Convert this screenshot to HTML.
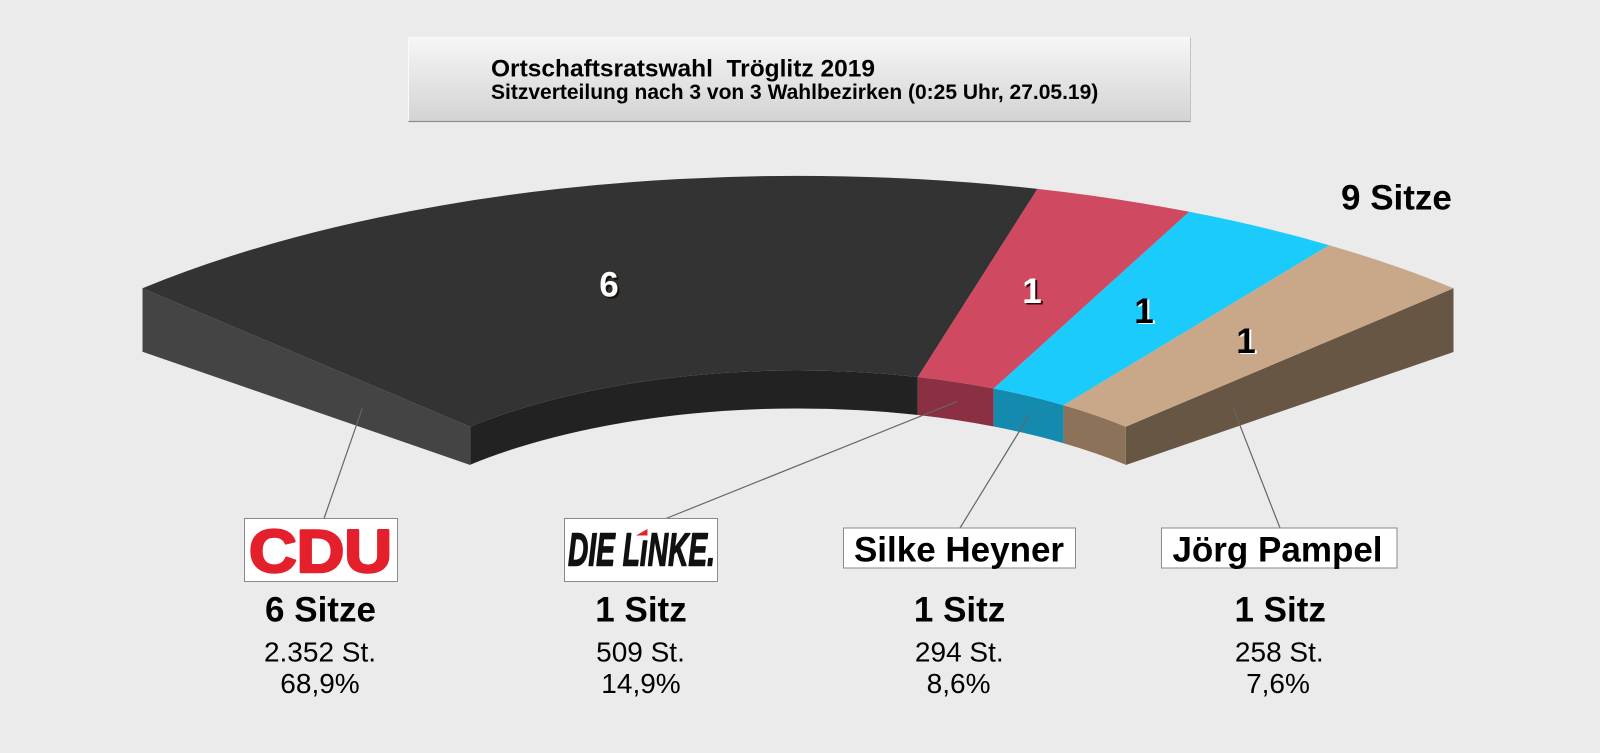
<!DOCTYPE html>
<html>
<head>
<meta charset="utf-8">
<style>
  html,body{margin:0;padding:0;background:#ebebeb;overflow:hidden;}
  svg{display:block;}
  text{font-family:"Liberation Sans",Arial,sans-serif;}
</style>
</head>
<body>
<svg width="1600" height="753" viewBox="0 0 1600 753" xmlns="http://www.w3.org/2000/svg">
  <defs>
    <linearGradient id="tg" x1="0" y1="0" x2="0" y2="1">
      <stop offset="0" stop-color="#f6f6f6"/>
      <stop offset="1" stop-color="#d3d3d3"/>
    </linearGradient>
  </defs>
  <rect x="0" y="0" width="1600" height="753" fill="#ebebeb"/>

  <!-- Title box -->
  <rect x="408.5" y="37.5" width="782" height="84" fill="url(#tg)" stroke="#c4c4c4" stroke-width="1"/>
  <line x1="408.5" y1="37.5" x2="1190.5" y2="37.5" stroke="#fafafa" stroke-width="1"/>
  <line x1="408.5" y1="37.5" x2="408.5" y2="121.5" stroke="#fafafa" stroke-width="1"/>
  <line x1="408.5" y1="121.5" x2="1190.5" y2="121.5" stroke="#8e8e8e" stroke-width="1.2"/>
  <text x="491" y="76.7" font-size="24.5" font-weight="bold" fill="#000" xml:space="preserve">Ortschaftsratswahl  Tröglitz 2019</text>
  <text x="491" y="98.8" font-size="21" font-weight="bold" fill="#000">Sitzverteilung nach 3 von 3 Wahlbezirken (0:25 Uhr, 27.05.19)</text>

  <!-- Left end cap -->
  <path d="M142.5,288.3 L470.2,426.7 L470.2,465 L142.5,351.7 Z" fill="#444444"/>
  <!-- Right end cap -->
  <path d="M1125.8,426.7 L1453.5,288.3 L1453.5,352 L1125.8,465 Z" fill="#675644"/>

  <!-- Inner walls -->
  <path d="M470.2,426.7 A466.2 194.5 0 0 1 917.8,377 L917.8,415 A466.2 194.5 0 0 0 470.2,464.7 Z" fill="#222222"/>
  <path d="M917.8,377 A466.2 194.5 0 0 1 993.7,388.5 L993.7,426.5 A466.2 194.5 0 0 0 917.8,415 Z" fill="#8a3042"/>
  <path d="M993.7,388.5 A466.2 194.5 0 0 1 1063.6,405.2 L1063.6,443.2 A466.2 194.5 0 0 0 993.7,426.5 Z" fill="#138aae"/>
  <path d="M1063.6,405.2 A466.2 194.5 0 0 1 1125.8,426.7 L1125.8,464.7 A466.2 194.5 0 0 0 1063.6,443.2 Z" fill="#8b7259"/>

  <!-- Top surfaces -->
  <path d="M142.5,288.3 A932.3 389.1 0 0 1 1037.5,188.9 L917.8,377 A466.2 194.5 0 0 0 470.2,426.7 Z" fill="#333333"/>
  <path d="M1037.5,188.9 A932.3 389.1 0 0 1 1189.3,211.8 L993.7,388.5 A466.2 194.5 0 0 0 917.8,377 Z" fill="#cf4a61"/>
  <path d="M1189.3,211.8 A932.3 389.1 0 0 1 1329.2,245.2 L1063.6,405.2 A466.2 194.5 0 0 0 993.7,388.5 Z" fill="#1bcbfc"/>
  <path d="M1329.2,245.2 A932.3 389.1 0 0 1 1453.5,288.3 L1125.8,426.7 A466.2 194.5 0 0 0 1063.6,405.2 Z" fill="#c8a888"/>

  <!-- Seat numbers on ring -->
  <text x="611" y="298.5" font-size="35" font-weight="bold" fill="#1a1208" text-anchor="middle">6</text>
  <text x="609" y="296.7" font-size="35" font-weight="bold" fill="#ffffff" text-anchor="middle">6</text>

  <text x="1034" y="304.5" font-size="35" font-weight="bold" fill="#2a0a10" text-anchor="middle">1</text>
  <text x="1032" y="303" font-size="35" font-weight="bold" fill="#ffffff" text-anchor="middle">1</text>

  <text x="1146" y="324" font-size="35" font-weight="bold" fill="#ffffff" text-anchor="middle">1</text>
  <text x="1144" y="323" font-size="35" font-weight="bold" fill="#000000" text-anchor="middle">1</text>

  <text x="1248" y="354" font-size="35" font-weight="bold" fill="#ffffff" text-anchor="middle">1</text>
  <text x="1246" y="353" font-size="35" font-weight="bold" fill="#000000" text-anchor="middle">1</text>

  <text x="1341" y="209.3" font-size="35" font-weight="bold" fill="#000">9 Sitze</text>

  <!-- Leader lines -->
  <g stroke="#666666" stroke-width="1.2" fill="none">
    <line x1="362.3" y1="408.3" x2="324" y2="518.5"/>
    <line x1="956.7" y1="401.7" x2="666" y2="518.5"/>
    <line x1="1030" y1="414" x2="960" y2="528"/>
    <line x1="1233.3" y1="408.3" x2="1280" y2="528"/>
  </g>

  <!-- CDU box -->
  <rect x="244.5" y="518.5" width="153" height="63" fill="#ffffff" stroke="#8a8a8a" stroke-width="1"/>
  <text x="320.5" y="572" font-size="60" font-weight="bold" fill="#e3202b" stroke="#e3202b" stroke-width="2.5" stroke-linejoin="round" text-anchor="middle" textLength="143" lengthAdjust="spacingAndGlyphs">CDU</text>

  <!-- DIE LINKE box -->
  <rect x="564.5" y="518.5" width="153" height="63" fill="#ffffff" stroke="#8a8a8a" stroke-width="1"/>
  <text x="568" y="565.5" font-size="46" font-weight="bold" font-style="italic" fill="#111111" stroke="#111111" stroke-width="1.4" stroke-linejoin="round" textLength="147" lengthAdjust="spacingAndGlyphs">DIE LıNKE.</text>
  <polygon points="636,535.5 647.5,529 647.5,535.5" fill="#e3202b"/>

  <!-- Silke Heyner box -->
  <rect x="843.5" y="528" width="232" height="40" fill="#ffffff" stroke="#8a8a8a" stroke-width="1"/>
  <text x="959" y="561.7" font-size="35" font-weight="bold" fill="#000" text-anchor="middle">Silke Heyner</text>

  <!-- Jörg Pampel box -->
  <rect x="1161.5" y="528" width="235.5" height="40" fill="#ffffff" stroke="#8a8a8a" stroke-width="1"/>
  <text x="1277.5" y="561.7" font-size="35" font-weight="bold" fill="#000" text-anchor="middle">Jörg Pampel</text>

  <!-- Column stats -->
  <g fill="#000" text-anchor="middle">
    <text x="320.5" y="621.7" font-size="35" font-weight="bold">6 Sitze</text>
    <text x="320" y="661.7" font-size="28">2.352 St.</text>
    <text x="320" y="693" font-size="28">68,9%</text>

    <text x="641" y="621.7" font-size="35" font-weight="bold">1 Sitz</text>
    <text x="640.5" y="661.7" font-size="28">509 St.</text>
    <text x="641" y="693" font-size="28">14,9%</text>

    <text x="959.6" y="621.7" font-size="35" font-weight="bold">1 Sitz</text>
    <text x="959.3" y="661.7" font-size="28">294 St.</text>
    <text x="958.6" y="693" font-size="28">8,6%</text>

    <text x="1280.2" y="621.7" font-size="35" font-weight="bold">1 Sitz</text>
    <text x="1279.3" y="661.7" font-size="28">258 St.</text>
    <text x="1278" y="693" font-size="28">7,6%</text>
  </g>
</svg>
</body>
</html>
